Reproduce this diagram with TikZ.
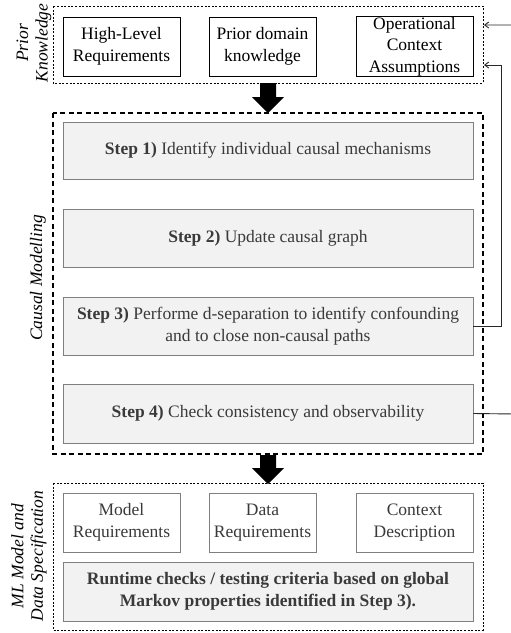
\documentclass[tikz,border=0pt]{standalone}
\usepackage{fontspec}
\setmainfont{Liberation Serif}
\usetikzlibrary{arrows.meta,shapes.arrows}
\definecolor{boxgray}{HTML}{7F7F7F}
\definecolor{fillgray}{HTML}{F2F2F2}
\definecolor{txtgray}{HTML}{3A3A3A}
\tikzset{
  kbox/.style={draw=black, line width=0.9pt, fill=white, align=center, inner sep=0pt},
  sbox/.style={draw=boxgray, line width=0.9pt, fill=fillgray, align=center, inner sep=0pt, text=txtgray},
  outerdot/.style={draw=black, dash pattern=on 2pt off 1.6pt, line width=0.8pt},
  outerdash/.style={draw=black, dash pattern=on 5pt off 3.5pt, line width=1.6pt},
  side/.style={rotate=90, align=center, font=\fontsize{17.5}{19.5}\selectfont\itshape},
  blockarrow/.style={fill=black},
  fb/.style={draw=black!85, line width=0.9pt},
}
\begin{document}
\begin{tikzpicture}[x=1pt,y=-1pt, font=\fontsize{17.5}{21.7}\selectfont]
\useasboundingbox (0,0) rectangle (511,633);
% outer containers
\draw[outerdot] (53,6) rectangle (483,83);
\draw[outerdash] (53,113) rectangle (483,454);
\draw[outerdot] (53,483) rectangle (483,630);
% prior knowledge boxes
\node[kbox, minimum width=117pt, minimum height=59pt] (hlr) at (121.5,46.5) {High-Level\\Requirements};
\node[kbox, minimum width=107pt, minimum height=59pt] (pdk) at (262.5,46.5) {Prior domain\\knowledge};
\node[kbox, minimum width=117pt, minimum height=59pt] (oca) at (414.5,46.5) {Operational\\Context\\Assumptions};
% steps
\node[sbox, minimum width=410pt, minimum height=57pt] (s1) at (268,150.5) {\textbf{Step 1)} Identify individual causal mechanisms};
\node[sbox, minimum width=410pt, minimum height=58pt] (s2) at (268,238) {\textbf{Step 2)} Update causal graph};
\node[sbox, minimum width=410pt, minimum height=58pt] (s3) at (268,326) {\textbf{Step 3)} Performe d-separation to identify confounding\\and to close non-causal paths};
\node[sbox, minimum width=410pt, minimum height=59pt] (s4) at (268,413.5) {\textbf{Step 4)} Check consistency and observability};
% ML boxes
\node[kbox, draw=boxgray, minimum width=117pt, minimum height=59pt, text=txtgray] (mr) at (121.5,522.5) {Model\\Requirements};
\node[kbox, draw=boxgray, minimum width=107pt, minimum height=59pt, text=txtgray] (dr) at (262.5,522.5) {Data\\Requirements};
\node[kbox, draw=boxgray, minimum width=117pt, minimum height=59pt, text=txtgray] (cd) at (414.5,522.5) {Context\\Description};
\node[sbox, minimum width=410pt, minimum height=59pt, font=\fontsize{17.5}{21.7}\selectfont\bfseries] (rt) at (268,591.5) {Runtime checks / testing criteria based on global\\Markov properties identified in Step 3).};
% side labels
\node[side] (lpk) at (34,43) {Prior\\Knowledge};
\node[side] (lcm) at (38,278) {Causal Modelling};
\node[side] (lml) at (29,556) {ML Model and\\Data Specification};
% block arrows
\fill[blockarrow] (260,83) -- (276,83) -- (276,97) -- (284,97) -- (268,113) -- (252,97) -- (260,97) -- cycle;
\fill[blockarrow] (260,455) -- (276,455) -- (276,468) -- (284,468) -- (268,484) -- (252,468) -- (260,468) -- cycle;
% feedback connectors
\coordinate (c3a) at (501,326);
\coordinate (c3b) at (501,65);
\coordinate (c3t) at (484,65);
\draw[fb, -{Straight Barb[length=4pt,width=6pt]}] (s3.east) -- (c3a) -- (c3b) -- (c3t);
\coordinate (c4a) at (515,414);
\coordinate (c4b) at (515,25);
\coordinate (c4t) at (484,25);
\draw[fb, -{Straight Barb[length=4pt,width=6pt]}] (s4.east) -- (c4a) -- (c4b) -- (c4t);
\end{tikzpicture}
\end{document}
